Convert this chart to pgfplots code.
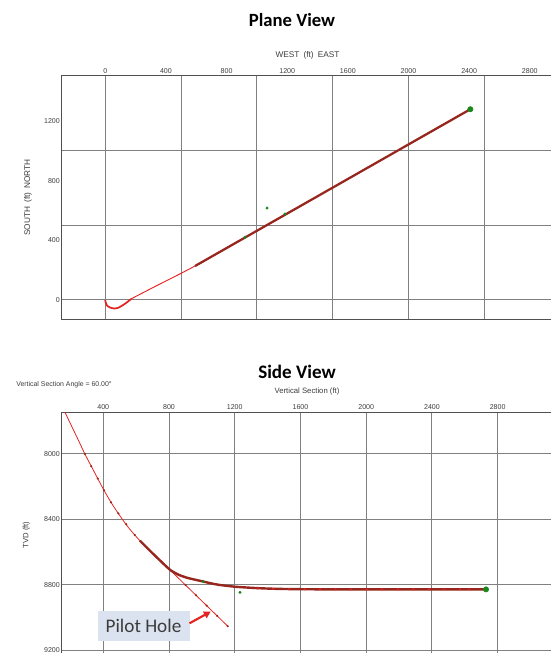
\documentclass[border=0pt]{standalone}
\usepackage{pgfplots}
\pgfplotsset{compat=1.18}
\usepackage{fontspec}
\setmainfont{Liberation Sans}
\newfontfamily\calibri{Carlito}
\usetikzlibrary{arrows.meta}
\definecolor{wellred}{RGB}{228,35,35}
\definecolor{welldark}{RGB}{150,38,30}
\definecolor{wellgreen}{RGB}{25,135,25}
\definecolor{gridgray}{RGB}{128,128,128}
\definecolor{framegray}{RGB}{80,80,80}
\definecolor{boxblue}{RGB}{220,227,240}
\definecolor{txtgray}{RGB}{60,60,60}
\pgfplotsset{
  wellaxis/.style={
    scale only axis,
    anchor=south west,
    axis line style={draw=framegray, line width=0.9pt},
    major tick length=0pt, minor tick length=0pt,
    tick label style={font=\fontsize{5.3}{6}\selectfont, text=txtgray},
    xticklabel style={inner sep=1.6pt},
    yticklabel style={inner sep=1.2pt},
    /pgf/number format/assume math mode=true,
    /pgf/number format/set thousands separator={},
    xticklabel pos=upper,
  }
}
\begin{document}
\begin{tikzpicture}
% ---------------- Plane View ----------------
\begin{axis}[wellaxis, at={(46.275pt,250.275pt)}, width=370.725pt, height=182.7pt,
  xmin=-287.6, xmax=2973, ymin=-129.5, ymax=1505,
  xtick={0,400,...,2800}, ytick={0,400,800,1200},
  minor xtick={0,500,...,2500}, minor ytick={0,500,1000},
  xminorgrids, yminorgrids,
  minor grid style={draw=gridgray, line width=0.75pt},
]
\addplot[wellred, line width=1.3pt, smooth] coordinates {
  (0,0) (2,-15) (10,-35) (30,-50) (60,-57) (90,-50) (130,-25) (175,10)};
\addplot[wellred, line width=0.7pt] coordinates {
  (175,10) (325,89) (500,179) (592,228)};
\addplot[welldark, line width=1.7pt] coordinates {
  (592,228) (2408,1280)};
\addplot[only marks, mark=*, mark size=0.9pt, wellgreen] coordinates {
  (921,421) (1185,577) (1067,617)};
\addplot[only marks, mark=*, mark size=2pt, wellgreen] coordinates {
  (2408,1280)};
\end{axis}
% ---------------- Side View ----------------
\begin{axis}[wellaxis, at={(46.275pt,-1.5pt)}, width=370.725pt, height=182.025pt,
  xmin=147, xmax=3155, ymin=7745, ymax=9230.6, y dir=reverse,
  xtick={400,800,...,2800}, ytick={8000,8400,8800,9200},
  grid=major, major grid style={draw=gridgray, line width=0.75pt},
]
% pilot hole
\addplot[wellred, line width=0.6pt, smooth] coordinates {
  (150,7709) (167,7745) (250,7919) (288,8000) (339,8098) (400,8214)
  (450,8301) (512,8394) (560,8459) (623,8531) (700,8608) (798,8702)
  (900,8802) (1000,8900) (1100,8998) (1161,9058)};
\addplot[only marks, mark=*, mark size=0.55pt, welldark] coordinates {
  (288,8000) (327,8075) (366,8150) (405,8222) (447,8296) (492,8364)
  (540,8430) (592,8496) (900,8802) (964,8865) (1029,8928) (1093,8991) (1157,9054)};
% main wellbore
\addplot[welldark, line width=1.8pt, smooth] coordinates {
  (623,8531) (700,8608) (798,8702) (830,8724) (860,8740) (907,8757)
  (960,8770) (1009,8781) (1060,8793) (1110,8802) (1195,8812) (1280,8818)
  (1354,8822) (1433,8825) (1531,8827) (1625,8828) (1814,8829) (2200,8829) (2729,8829)};
\addplot[only marks, mark=*, mark size=0.6pt, wellred] coordinates {
  (1341,8823) (1433,8825) (1531,8827) (1625,8828) (1719,8828) (1814,8829)
  (1907,8829) (2004,8829) (2095,8829) (2192,8829) (2288,8829) (2382,8829)
  (2476,8829) (2570,8829) (2625,8829)};
\addplot[only marks, mark=*, mark size=0.9pt, wellgreen] coordinates {
  (1009,8781) (1232,8847)};
\addplot[only marks, mark=*, mark size=2pt, wellgreen] coordinates {
  (2729,8829)};
\end{axis}
% ---------------- Text and annotations ----------------
\begin{scope}[x=0.75pt,y=0.75pt]
\node[font=\calibri\bfseries\fontsize{14}{16}\selectfont] at (292,633) {Plane View};
\node[font=\fontsize{6.2}{7}\selectfont, text=txtgray] at (307.5,598) {WEST\hspace{0.5em}(ft)\hspace{0.5em}EAST};
\node[font=\fontsize{6.2}{7}\selectfont, text=txtgray, rotate=90] at (28,455.5) {SOUTH\hspace{0.5em}(ft)\hspace{0.5em}NORTH};
\node[font=\calibri\bfseries\fontsize{14.3}{16}\selectfont] at (297,281.3) {Side View};
\node[font=\fontsize{5.2}{6}\selectfont, text=txtgray, anchor=west, inner sep=0pt] at (16,268) {Vertical Section Angle = 60.00°};
\node[font=\fontsize{5.8}{7}\selectfont, text=txtgray] at (307,261.3) {Vertical Section (ft)};
\node[font=\fontsize{5.8}{7}\selectfont, text=txtgray, rotate=90] at (26.3,118) {TVD (ft)};
\node[fill=boxblue, minimum width=69pt, minimum height=22.7pt, inner sep=0pt,
      font=\calibri\fontsize{14.4}{16}\selectfont, text=txtgray] at (143.5,27.1) {Pilot Hole};
\draw[wellred, line width=1.6pt, -{Triangle[length=5pt,width=5.5pt]}] (189.5,29.7) -- (210.6,41.3);
\pgfresetboundingbox
\path[use as bounding box] (0,0) rectangle (550,653);
\end{scope}
\end{tikzpicture}
\end{document}
